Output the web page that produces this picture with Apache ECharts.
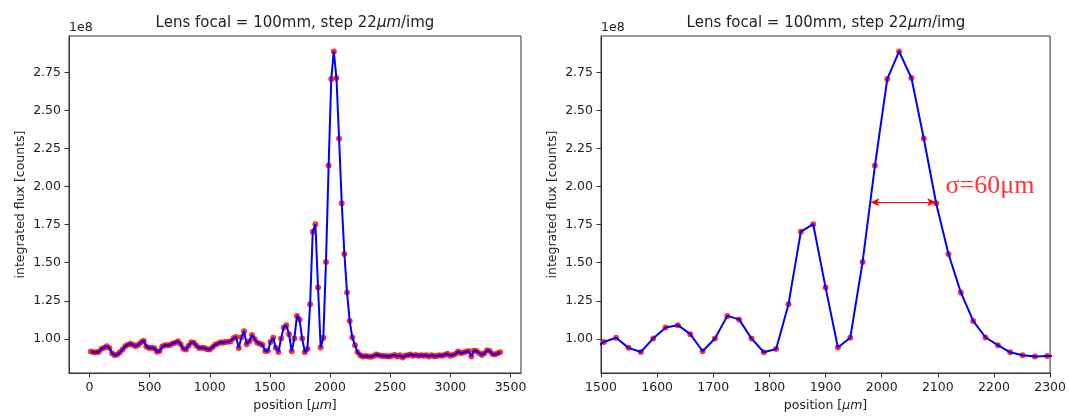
<!DOCTYPE html>
<html>
<head>
<meta charset="utf-8">
<script src="https://cdn.jsdelivr.net/npm/echarts@6/dist/echarts.min.js"></script>
<style>
html,body{margin:0;padding:0;background:#fff;}
#chart{width:1069px;height:417px;}
</style>
</head>
<body>
<div id="chart"></div>
<script>
// stage positions [µm]
var positions = [
  12,34,56,78,100,122,144,166,188,210,
  232,253,275,297,319,341,363,385,407,429,
  451,473,495,517,539,561,583,605,627,649,
  671,692,714,736,758,780,802,824,846,868,
  890,912,934,956,978,1000,1022,1044,1066,1088,
  1110,1131,1153,1175,1197,1219,1241,1263,1285,1307,
  1329,1351,1373,1395,1417,1439,1461,1483,1505,1527,
  1549,1571,1593,1615,1637,1659,1681,1703,1725,1746,
  1768,1790,1812,1834,1856,1878,1900,1922,1944,1966,
  1988,2010,2031,2053,2075,2097,2119,2141,2163,2185,
  2207,2229,2251,2273,2295,2317,2339,2361,2383,2405,
  2427,2449,2471,2493,2515,2537,2559,2581,2603,2624,
  2646,2668,2690,2712,2734,2756,2778,2800,2822,2844,
  2866,2888,2910,2932,2954,2976,2998,3020,3042,3064,
  3086,3108,3130,3152,3174,3195,3217,3239,3261,3283,
  3305,3327,3349,3371,3393,3414
];
// integrated flux in units of 1e8 counts
var fluxE8 = [
  0.918,0.912,0.912,0.915,0.935,0.942,0.952,0.940,0.905,0.893,
  0.898,0.912,0.930,0.952,0.962,0.968,0.960,0.952,0.962,0.978,
  0.988,0.950,0.940,0.942,0.938,0.915,0.920,0.950,0.958,0.958,
  0.960,0.970,0.975,0.985,0.965,0.935,0.930,0.955,0.978,0.975,
  0.955,0.940,0.942,0.940,0.932,0.930,0.945,0.962,0.968,0.978,
  0.975,0.980,0.982,0.985,1.005,1.012,0.940,1.010,1.050,0.965,
  0.985,1.025,1.000,0.975,0.968,0.960,0.920,0.922,0.980,1.007,
  0.941,0.914,1.003,1.075,1.090,1.031,0.919,1.003,1.151,1.128,
  1.003,0.912,0.934,1.228,1.704,1.753,1.338,0.943,1.007,1.505,
  2.138,2.707,2.888,2.713,2.316,1.891,1.557,1.305,1.118,1.009,
  0.959,0.912,0.893,0.884,0.888,0.885,0.882,0.888,0.898,0.892,
  0.888,0.887,0.886,0.885,0.890,0.895,0.885,0.893,0.877,0.890,
  0.893,0.898,0.890,0.895,0.890,0.893,0.890,0.892,0.885,0.892,
  0.886,0.888,0.892,0.890,0.896,0.902,0.890,0.895,0.900,0.918,
  0.905,0.910,0.915,0.920,0.885,0.922,0.920,0.908,0.895,0.905,
  0.925,0.920,0.900,0.898,0.905,0.913
];
var leftXTicks = [0,500,1000,1500,2000,2500,3000,3500];
var rightXTicks = [1500,1600,1700,1800,1900,2000,2100,2200,2300];
var yTicks = [1.00,1.25,1.50,1.75,2.00,2.25,2.50,2.75];
var titleText = 'Lens focal = 100mm, step 22{i|μm}/img';
var yName = 'integrated flux [counts]';
var xName = 'position [{i|μm}]';
var sigmaLabel = 'σ=60μm';
var sigmaArrow = [[1980,1.897],[2097,1.897]];
var sigmaTextPos = [2193,2.0];

var pts = positions.map(function(x,i){return [x, fluxE8[i]];});

var FONT = 'DejaVu Sans';
var TXT = '#222';
var FRAME = '#333';

function xAxis(gi, min, max, ticks){
  return {
    type:'value', gridIndex:gi, min:min, max:max,
    name:xName, nameLocation:'middle', nameGap:25,
    nameTextStyle:{fontFamily:FONT,fontSize:12.5,color:TXT,
      rich:{i:{fontFamily:FONT,fontStyle:'italic',fontSize:12.5,color:TXT}}},
    axisLine:{show:true,onZero:false,lineStyle:{color:FRAME,width:1}},
    axisTick:{show:true,length:4.5,inside:false,customValues:ticks,lineStyle:{color:FRAME,width:1}},
    axisLabel:{show:true,customValues:ticks,margin:8,fontFamily:FONT,fontSize:12.5,color:TXT,
      formatter:function(v){return String(v);}},
    splitLine:{show:false}
  };
}
function yAxis(gi){
  return {
    type:'value', gridIndex:gi, min:0.776, max:2.989,
    name:yName, nameLocation:'middle', nameGap:42, nameRotate:90,
    nameTextStyle:{fontFamily:FONT,fontSize:12.5,color:TXT},
    axisLine:{show:true,onZero:false,lineStyle:{color:FRAME,width:1}},
    axisTick:{show:true,length:4.5,customValues:yTicks,lineStyle:{color:FRAME,width:1}},
    axisLabel:{show:true,customValues:yTicks,margin:8,fontFamily:FONT,fontSize:12.5,color:TXT,
      formatter:function(v){return v.toFixed(2);}},
    splitLine:{show:false}
  };
}

var chart = echarts.init(document.getElementById('chart'), null, {renderer:'canvas'});
chart.setOption({
  backgroundColor:'#ffffff',
  animation:false,
  grid:[
    {left:69, top:36, width:452, height:337, show:true, borderColor:FRAME, borderWidth:1, backgroundColor:'transparent', containLabel:false},
    {left:601, top:36, width:451, height:337, show:true, borderColor:FRAME, borderWidth:1, backgroundColor:'transparent', containLabel:false}
  ],
  xAxis:[ xAxis(0,-170,3587,leftXTicks), xAxis(1,1500,2300,rightXTicks) ],
  yAxis:[ yAxis(0), yAxis(1) ],
  graphic:[
    {type:'text', x:295, y:16, style:{text:titleText, fontFamily:FONT, fontSize:15, fill:TXT, textAlign:'center',
      rich:{i:{fontFamily:FONT,fontStyle:'italic',fontSize:15,fill:TXT}}}},
    {type:'text', x:826, y:16, style:{text:titleText, fontFamily:FONT, fontSize:15, fill:TXT, textAlign:'center',
      rich:{i:{fontFamily:FONT,fontStyle:'italic',fontSize:15,fill:TXT}}}},
    {type:'text', x:69, y:21, style:{text:'1e8', fontFamily:FONT, fontSize:12.5, fill:TXT}},
    {type:'text', x:601, y:21, style:{text:'1e8', fontFamily:FONT, fontSize:12.5, fill:TXT}}
  ],
  series:[
    {type:'scatter', xAxisIndex:0, yAxisIndex:0, data:pts, symbol:'circle', symbolSize:6,
      itemStyle:{color:'#ff0000'}, z:2, silent:true, clip:true},
    {type:'line', xAxisIndex:0, yAxisIndex:0, data:pts, showSymbol:false, symbol:'none',
      lineStyle:{color:'#0000ff', width:2}, z:3, silent:true, clip:true},
    {type:'scatter', xAxisIndex:1, yAxisIndex:1, data:pts, symbol:'circle', symbolSize:6,
      itemStyle:{color:'#ff0000'}, z:2, silent:true, clip:true},
    {type:'line', xAxisIndex:1, yAxisIndex:1, data:pts, showSymbol:false, symbol:'none',
      lineStyle:{color:'#0000ff', width:2}, z:3, silent:true, clip:true,
      markLine:{silent:true, symbol:['arrow','arrow'], symbolSize:[6,9], precision:3,
        lineStyle:{color:'#ff0000', width:1, type:'solid'}, label:{show:false},
        data:[[{coord:sigmaArrow[0]},{coord:sigmaArrow[1]}]]}},
    {type:'scatter', xAxisIndex:1, yAxisIndex:1, data:[sigmaTextPos], symbolSize:0, silent:true, z:5,
      label:{show:true, position:'inside', formatter:sigmaLabel, fontFamily:'Liberation Serif', fontSize:26, color:'#ff0000'}}
  ]
});
</script>
</body>
</html>
